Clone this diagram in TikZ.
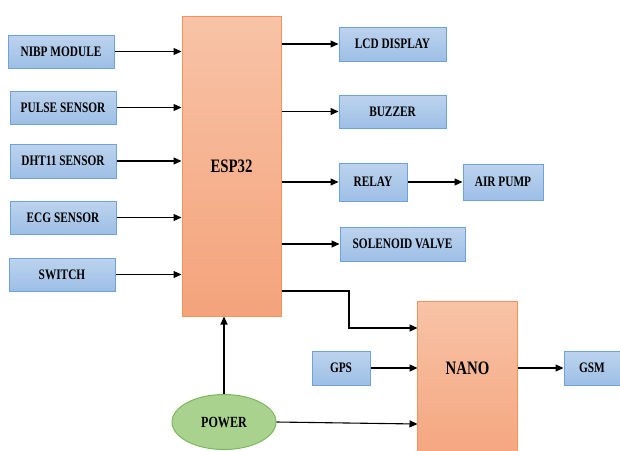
\documentclass[tikz,border=0pt]{standalone}
\usepackage{fontspec}
\setmainfont{Liberation Serif}[FakeStretch=0.78]
\usetikzlibrary{arrows.meta,shapes.geometric}
\definecolor{bluetop}{HTML}{BDD3EE}
\definecolor{bluebot}{HTML}{9DBFE6}
\definecolor{blueline}{HTML}{6FA1DA}
\definecolor{ortop}{HTML}{F8C3A7}
\definecolor{orbot}{HTML}{F4A37B}
\definecolor{orline}{HTML}{F3935A}
\definecolor{grfill}{HTML}{A9D28E}
\definecolor{grline}{HTML}{7DB75B}
\begin{document}
\begin{tikzpicture}[x=1pt,y=-1pt,
  bbox/.style={draw=blueline,line width=1pt,top color=bluetop,bottom color=bluebot,
    font=\fontsize{14.5}{16}\selectfont\bfseries,inner sep=0pt},
  obox/.style={draw=orline,line width=1pt,top color=ortop,bottom color=orbot,
    font=\fontsize{19}{21}\selectfont\bfseries,inner sep=0pt},
  conn/.style={line width=1.1pt,-{Triangle[length=8pt,width=7pt]}}]
\useasboundingbox (0,0) rectangle (620,450);
\clip (0,0) rectangle (620,450);
% inputs
\node[bbox,minimum width=106,minimum height=33] (nibp) at (61,51.5) {NIBP MODULE};
\node[bbox,minimum width=106,minimum height=33] (pulse) at (63,107.5) {PULSE SENSOR};
\node[bbox,minimum width=106,minimum height=34] (dht) at (63,161) {DHT11 SENSOR};
\node[bbox,minimum width=106,minimum height=33] (ecg) at (63,217.5) {ECG SENSOR};
\node[bbox,minimum width=106,minimum height=33] (sw) at (62,274.5) {SWITCH};
% main controller
\node[obox,minimum width=99,minimum height=300] (esp) at (231.5,166) {ESP32};
% outputs
\node[bbox,minimum width=107,minimum height=34] (lcd) at (392.5,44) {LCD DISPLAY};
\node[bbox,minimum width=107,minimum height=33] (buz) at (392.5,111.5) {BUZZER};
\node[bbox,minimum width=68,minimum height=38] (relay) at (373,182) {RELAY};
\node[bbox,minimum width=80,minimum height=36] (pump) at (503,182) {AIR PUMP};
\node[bbox,minimum width=125,minimum height=34] (sol) at (402.5,244) {SOLENOID VALVE};
% nano section (runs past the lower edge)
\node[obox,draw=none,minimum width=99,minimum height=170] (nano) at (467.5,387) {};
\draw[orline,line width=1pt] (nano.south west) -- (nano.north west) -- (nano.north east) -- (nano.south east);
\node[font=\fontsize{19}{21}\selectfont\bfseries] (nanolab) at (467.5,368) {NANO};
\node[bbox,minimum width=58,minimum height=34] (gps) at (341,368) {GPS};
\node[bbox,minimum width=56,minimum height=34] (gsm) at (592,368) {GSM};
\node[ellipse,draw=grline,line width=1pt,fill=grfill,minimum width=104,minimum height=55,
  inner sep=0pt,font=\fontsize{15.5}{17}\selectfont\bfseries] (power) at (224,422) {POWER};
% connectors
\foreach \n in {nibp,pulse,dht,ecg,sw}
  \draw[conn] (\n.east) -- (\n.east -| esp.west);
\foreach \n in {lcd,buz,relay,sol}
  \draw[conn] (\n.west -| esp.east) -- (\n.west);
\draw[conn] (relay.east) -- (pump.west);
\draw[conn] (esp.east |- 0,291) -- (349,291) -- (349,328) -- (nano.west |- 0,328);
\draw[conn] (gps.east) -- (nano.west |- gps.east);
\draw[conn] (nano.east |- gsm.west) -- (gsm.west);
\draw[conn] (power.north) -- (power.north |- esp.south);
\draw[conn] (power.east) -- (nano.west |- 0,424);
\end{tikzpicture}
\end{document}
